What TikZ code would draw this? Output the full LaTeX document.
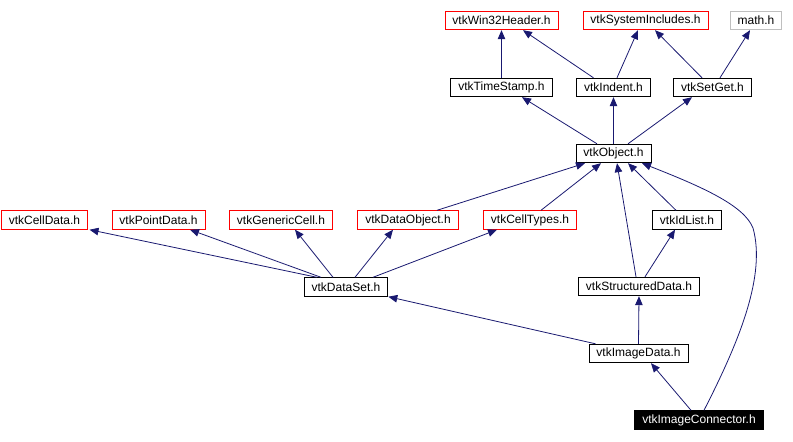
\documentclass[tikz,border=0pt]{standalone}
\usepackage{fontspec}
\setmainfont{Liberation Sans}
\usetikzlibrary{arrows.meta}

\definecolor{edgeblue}{HTML}{191970}
\definecolor{boxgrey}{HTML}{BFBFBF}
\definecolor{boxred}{HTML}{FF0000}

\tikzset{
    hdr/.style={draw=black, line width=0.9pt, fill=white, inner xsep=7.5pt, inner ysep=0pt,
                minimum height=18.5pt, font=\fontsize{12}{13}\selectfont},
    extern/.style={hdr, draw=boxred},
    missing/.style={hdr, draw=boxgrey},
    current/.style={hdr, fill=black, text=white},
    incl/.style={draw=edgeblue, line width=0.8pt, -{Triangle[length=9pt,width=7.5pt]}}
}

\begin{document}
\begin{tikzpicture}[x=1pt, y=-1pt]
    \useasboundingbox (0,0) rectangle (793,442);

    % top row
    \node[extern]  (win32)  at (501.5,20.5) {vtkWin32Header.h};
    \node[extern]  (sysinc) at (645.5,20.5) {vtkSystemIncludes.h};
    \node[missing] (math)   at (756,20.5)   {math.h};

    \node[hdr] (timestamp) at (501.5,87.5) {vtkTimeStamp.h};
    \node[hdr] (indent)    at (613.5,87.5) {vtkIndent.h};
    \node[hdr] (setget)    at (712.5,87.5) {vtkSetGet.h};

    \node[hdr] (object) at (613.5,153.5) {vtkObject.h};

    % middle row
    \node[extern] (celldata)    at (44.5,220)  {vtkCellData.h};
    \node[extern] (pointdata)   at (158.5,220) {vtkPointData.h};
    \node[extern] (genericcell) at (281,220)   {vtkGenericCell.h};
    \node[extern] (dataobject)  at (408,220)   {vtkDataObject.h};
    \node[extern] (celltypes)   at (530,220)   {vtkCellTypes.h};
    \node[hdr]    (idlist)      at (687,220)   {vtkIdList.h};

    \node[hdr] (dataset)    at (346,287)   {vtkDataSet.h};
    \node[hdr] (structured) at (639,286.5) {vtkStructuredData.h};
    \node[hdr] (imagedata)  at (638.5,353.5) {vtkImageData.h};

    \node[current] (connector) at (699,420) {vtkImageConnector.h};

    % includes
    \draw[incl] (timestamp.north) -- (win32.south);
    \draw[incl] ([xshift=-20pt]indent.north) -- ([xshift=21.5pt]win32.south);
    \draw[incl] ([xshift=3.5pt]indent.north) -- ([xshift=-7.5pt]sysinc.south);
    \draw[incl] ([xshift=-10.5pt]setget.north) -- ([xshift=9.5pt]sysinc.south);
    \draw[incl] ([xshift=7.5pt]setget.north) -- ([xshift=-6pt]math.south);

    \draw[incl] ([xshift=-16.5pt]object.north) -- ([xshift=20.5pt]timestamp.south);
    \draw[incl] (object.north) -- (indent.south);
    \draw[incl] ([xshift=14.5pt]object.north) -- ([xshift=-20.5pt]setget.south);

    \draw[incl] ([xshift=29pt]dataobject.north) -- ([xshift=-28.5pt]object.south);
    \draw[incl] ([xshift=11pt]celltypes.north) -- ([xshift=-12.5pt]object.south);
    \draw[incl] ([xshift=-3pt]structured.north) -- ([xshift=3.5pt]object.south);
    \draw[incl] ([xshift=-11pt]idlist.north) -- ([xshift=14.5pt]object.south);
    \draw[incl] ([xshift=5pt]connector.north) .. controls (740,340) and (766,275) .. (753,228)
        .. controls (744,205) and (700,186) .. ([xshift=28.5pt]object.south);

    \draw[incl] ([xshift=-29pt]dataset.north) -- ([xshift=45pt]celldata.south);
    \draw[incl] ([xshift=-25pt]dataset.north) -- ([xshift=31.5pt]pointdata.south);
    \draw[incl] ([xshift=-13pt]dataset.north) -- ([xshift=14pt]genericcell.south);
    \draw[incl] ([xshift=9pt]dataset.north) -- ([xshift=-15pt]dataobject.south);
    \draw[incl] ([xshift=27pt]dataset.north) -- ([xshift=-33pt]celltypes.south);

    \draw[incl] ([xshift=6pt]structured.north) -- ([xshift=-12pt]idlist.south);
    \draw[incl] (imagedata.north) -- (structured.south);
    \draw[incl] ([xshift=-43pt]imagedata.north) -- (dataset.south east);
    \draw[incl] ([xshift=-8pt]connector.north) -- ([xshift=12.5pt]imagedata.south);
\end{tikzpicture}
\end{document}
